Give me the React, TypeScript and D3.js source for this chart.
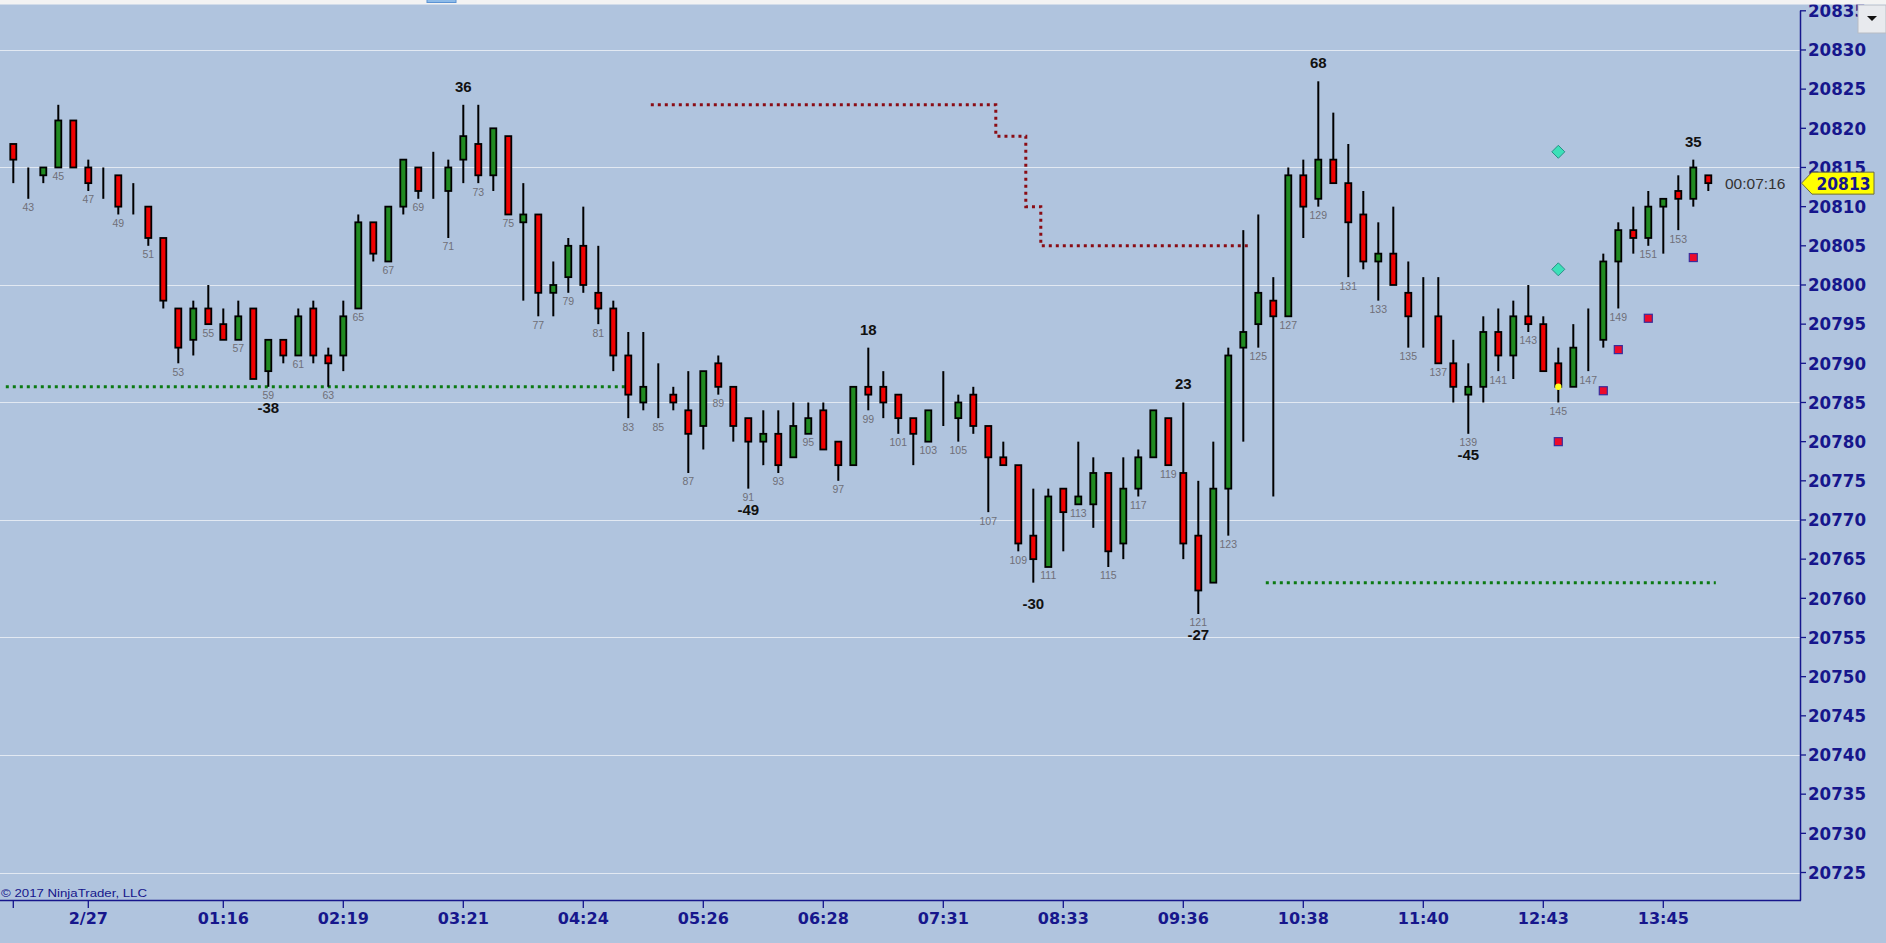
import { useEffect, useRef } from "react";
import * as d3 from "d3";

// bar numbers 42..155, OHLC
const FIRST_BAR = 42;
const LAST_LABELLED_BAR = 153;

const opens = [
  20818, 20815, 20814, 20815, 20821, 20815, 20813, 20814, 20810, 20810,
  20806, 20797, 20793, 20797, 20795, 20793, 20797, 20789, 20793, 20791,
  20797, 20791, 20791, 20797, 20808, 20803, 20810, 20815, 20811, 20812,
  20816, 20818, 20814, 20819, 20808, 20809, 20799, 20801, 20805, 20799,
  20797, 20791, 20785, 20786, 20786, 20784, 20782, 20790, 20787, 20783,
  20780, 20781, 20778, 20781, 20784, 20780, 20777, 20787, 20787, 20786,
  20783, 20780, 20783, 20783, 20786, 20782, 20778, 20777, 20768, 20764,
  20774, 20772, 20772, 20776, 20767, 20774, 20778, 20783, 20776, 20768,
  20762, 20774, 20792, 20795, 20798, 20796, 20814, 20811, 20816, 20813,
  20809, 20803, 20804, 20799, 20795, 20796, 20790, 20786, 20787, 20794,
  20791, 20796, 20795, 20790, 20787, 20792, 20793, 20803, 20807, 20806,
  20810, 20812, 20811, 20814,
];
const highs = [
  20818, 20815, 20815, 20823, 20821, 20816, 20815, 20814, 20813, 20810,
  20806, 20797, 20798, 20800, 20797, 20798, 20797, 20793, 20793, 20797,
  20798, 20792, 20798, 20809, 20808, 20810, 20816, 20815, 20817, 20816,
  20823, 20823, 20820, 20819, 20813, 20809, 20803, 20806, 20810, 20805,
  20798, 20794, 20794, 20790, 20787, 20789, 20789, 20791, 20787, 20783,
  20784, 20784, 20785, 20785, 20785, 20780, 20787, 20792, 20789, 20786,
  20783, 20784, 20789, 20786, 20787, 20782, 20780, 20777, 20774, 20774,
  20774, 20780, 20778, 20776, 20778, 20779, 20784, 20783, 20785, 20775,
  20780, 20792, 20807, 20809, 20801, 20815, 20816, 20826, 20822, 20818,
  20812, 20808, 20810, 20803, 20801, 20801, 20793, 20790, 20796, 20797,
  20798, 20800, 20796, 20792, 20795, 20797, 20804, 20808, 20810, 20812,
  20811, 20814, 20816, 20814,
];
const lows = [
  20813, 20811, 20813, 20815, 20815, 20812, 20811, 20809, 20809, 20805,
  20797, 20790, 20791, 20795, 20793, 20793, 20788, 20787, 20790, 20791,
  20790, 20787, 20789, 20797, 20803, 20803, 20809, 20811, 20811, 20806,
  20813, 20813, 20812, 20809, 20798, 20796, 20796, 20799, 20799, 20795,
  20789, 20783, 20784, 20783, 20784, 20776, 20779, 20786, 20780, 20774,
  20777, 20776, 20778, 20781, 20779, 20775, 20777, 20784, 20783, 20781,
  20777, 20780, 20782, 20780, 20781, 20771, 20777, 20766, 20762, 20764,
  20766, 20772, 20769, 20764, 20765, 20773, 20778, 20777, 20765, 20758,
  20762, 20768, 20780, 20792, 20773, 20796, 20806, 20810, 20813, 20801,
  20802, 20798, 20800, 20792, 20792, 20790, 20785, 20781, 20785, 20789,
  20788, 20794, 20789, 20785, 20787, 20789, 20792, 20797, 20804, 20805,
  20804, 20807, 20810, 20812,
];
const closes = [
  20816, 20815, 20815, 20821, 20815, 20813, 20813, 20810, 20810, 20806,
  20798, 20792, 20797, 20795, 20793, 20796, 20788, 20793, 20791, 20796,
  20791, 20790, 20796, 20808, 20804, 20810, 20816, 20812, 20811, 20815,
  20819, 20814, 20820, 20809, 20809, 20799, 20800, 20805, 20800, 20797,
  20791, 20786, 20787, 20786, 20785, 20781, 20789, 20787, 20782, 20780,
  20781, 20777, 20782, 20783, 20779, 20777, 20787, 20786, 20785, 20783,
  20781, 20784, 20783, 20785, 20782, 20778, 20777, 20767, 20765, 20773,
  20771, 20773, 20776, 20766, 20774, 20778, 20784, 20777, 20767, 20761,
  20774, 20791, 20794, 20799, 20796, 20814, 20810, 20816, 20813, 20808,
  20803, 20804, 20800, 20796, 20795, 20790, 20787, 20787, 20794, 20791,
  20796, 20795, 20789, 20787, 20792, 20792, 20803, 20807, 20806, 20810,
  20811, 20811, 20815, 20813,
];

// swing counters
const swingBars = [59, 72, 91, 99, 110, 120, 121, 129, 139, 154];
const swingTexts = ["-38", "36", "-49", "18", "-30", "23", "-27", "68", "-45", "35"];
const swingAbove = [false, true, false, true, false, true, false, true, false, true];

// time axis
const timeTickBars = [42, 47, 56, 64, 72, 80, 88, 96, 104, 112, 120, 128, 136, 144, 152];
const timeTickLabels = ["", "2/27", "01:16", "02:19", "03:21", "04:24", "05:26", "06:28",
  "07:31", "08:33", "09:36", "10:38", "11:40", "12:43", "13:45"];

// dotted levels: [bar, price] step points
const redSteps: [number, number][] = [[84.5, 20823], [107.5, 20819], [109.5, 20810], [110.5, 20805], [124.5, 20805]];
const greenStepsA: [number, number][] = [[41.5, 20787], [83.5, 20787]];
const greenStepsB: [number, number][] = [[125.5, 20762], [155.5, 20762]];

// signal markers
const diamondBars = [145, 145];
const diamondPrices = [20817, 20802];
const squareBars = [145, 148, 149, 151, 154];
const squarePrices = [20780, 20786.5, 20791.75, 20795.75, 20803.5];
const dotBars = [145];
const dotPrices = [20787];

const LAST_PRICE = 20813;
const BAR_TIMER = "00:07:16";

const W = 1886;
const H = 943;
const AXIS_X = 1800;
const AXIS_Y = 900;
const NAVY = "#16168c";

export default function App() {
  const svgRef = useRef<SVGSVGElement>(null);

  useEffect(() => {
    if (!svgRef.current) return;
    const svg = d3.select(svgRef.current);
    svg.selectAll("*").remove();

    const x = d3.scaleLinear().domain([FIRST_BAR, 155]).range([13.3, 1708.3]);
    const y = d3.scaleLinear().domain([20725, 20835]).range([872.5, 10.8]);

    svg.append("rect").attr("width", W).attr("height", H).attr("fill", "#b0c4de");

    // grid
    svg.append("g")
      .selectAll("line")
      .data(d3.range(20725, 20831, 15))
      .join("line")
      .attr("x1", 0)
      .attr("x2", AXIS_X)
      .attr("y1", (d) => Math.round(y(d)) + 0.5)
      .attr("y2", (d) => Math.round(y(d)) + 0.5)
      .attr("stroke", "#e2e9f2")
      .attr("stroke-width", 1.2);

    // dotted level lines
    const stepLine = d3
      .line<[number, number]>()
      .x((d) => x(d[0]))
      .y((d) => y(d[1]))
      .curve(d3.curveStepAfter);
    const levels: [[number, number][], string][] = [
      [redSteps, "#8a0c14"],
      [greenStepsA, "#0b7a12"],
      [greenStepsB, "#0b7a12"],
    ];
    levels.forEach(([pts, color]) => {
      svg.append("path")
        .attr("d", stepLine(pts))
        .attr("fill", "none")
        .attr("stroke", color)
        .attr("stroke-width", 3)
        .attr("stroke-dasharray", "3,4");
    });

    const bars = opens.map((o, i) => ({
      n: FIRST_BAR + i,
      o,
      h: highs[i],
      l: lows[i],
      c: closes[i],
    }));

    const gBars = svg.append("g");
    // wicks
    gBars.selectAll("line.wick")
      .data(bars)
      .join("line")
      .attr("class", "wick")
      .attr("x1", (d) => x(d.n))
      .attr("x2", (d) => x(d.n))
      .attr("y1", (d) => y(d.h))
      .attr("y2", (d) => y(d.l))
      .attr("stroke", "#000")
      .attr("stroke-width", 2);
    // bodies
    gBars.selectAll("rect.body")
      .data(bars)
      .join("rect")
      .attr("class", "body")
      .attr("x", (d) => x(d.n) - 3)
      .attr("width", 6)
      .attr("y", (d) => y(Math.max(d.o, d.c)))
      .attr("height", (d) => Math.abs(y(d.o) - y(d.c)))
      .attr("fill", (d) => (d.c > d.o ? "#218a21" : d.c < d.o ? "#f00000" : "#000"))
      .attr("stroke", "#000")
      .attr("stroke-width", 1.8);

    // bar numbers under odd bars (the live bar has none)
    svg.append("g")
      .selectAll("text")
      .data(bars.filter((d) => d.n % 2 === 1 && d.n <= LAST_LABELLED_BAR))
      .join("text")
      .attr("x", (d) => x(d.n))
      .attr("y", (d) => y(d.l) + 12.5)
      .attr("text-anchor", "middle")
      .attr("font-family", "'Liberation Sans Narrow', 'Liberation Sans', Arial, sans-serif")
      .attr("font-size", 10.5)
      .attr("fill", "#6f6f78")
      .text((d) => String(d.n));

    // swing counters
    swingBars.forEach((b, i) => {
      const bar = bars[b - FIRST_BAR];
      svg.append("text")
        .attr("x", x(b))
        .attr("y", swingAbove[i] ? y(bar.h) - 13 : y(bar.l) + 26)
        .attr("text-anchor", "middle")
        .attr("font-family", "'Liberation Sans', Arial, sans-serif")
        .attr("font-weight", "bold")
        .attr("font-size", 15)
        .attr("fill", "#111")
        .text(swingTexts[i]);
    });

    // markers
    diamondBars.forEach((b, i) => {
      const cx = x(b);
      const cy = y(diamondPrices[i]);
      svg.append("path")
        .attr("d", `M${cx},${cy - 6.5}L${cx + 6.5},${cy}L${cx},${cy + 6.5}L${cx - 6.5},${cy}Z`)
        .attr("fill", "#3ce0b8")
        .attr("stroke", "#2a8f86")
        .attr("stroke-width", 1);
    });
    squareBars.forEach((b, i) => {
      svg.append("rect")
        .attr("x", x(b) - 4)
        .attr("y", y(squarePrices[i]) - 4)
        .attr("width", 8)
        .attr("height", 8)
        .attr("fill", "#ee0a2a")
        .attr("stroke", "#3a2c9c")
        .attr("stroke-width", 1.2);
    });
    dotBars.forEach((b, i) => {
      svg.append("circle")
        .attr("cx", x(b))
        .attr("cy", y(dotPrices[i]))
        .attr("r", 3.2)
        .attr("fill", "#ffff20");
    });

    // bar timer
    svg.append("text")
      .attr("x", 1725)
      .attr("y", y(LAST_PRICE) + 5.5)
      .attr("font-family", "'Liberation Sans', Arial, sans-serif")
      .attr("font-size", 15.5)
      .attr("fill", "#333")
      .text(BAR_TIMER);

    // price axis
    svg.append("line")
      .attr("x1", AXIS_X + 0.5).attr("x2", AXIS_X + 0.5)
      .attr("y1", y(20835)).attr("y2", AXIS_Y + 0.5)
      .attr("stroke", NAVY).attr("stroke-width", 1.5);
    const yTicks = d3.range(20725, 20836, 5);
    const gy = svg.append("g");
    gy.selectAll("line")
      .data(yTicks)
      .join("line")
      .attr("x1", AXIS_X).attr("x2", AXIS_X + 6)
      .attr("y1", (d) => y(d)).attr("y2", (d) => y(d))
      .attr("stroke", NAVY).attr("stroke-width", 1.3);
    gy.selectAll("text")
      .data(yTicks)
      .join("text")
      .attr("x", AXIS_X + 8)
      .attr("y", (d) => y(d) + 6.2)
      .attr("font-family", "'DejaVu Sans', sans-serif")
      .attr("font-weight", "bold")
      .attr("font-size", 17)
      .attr("textLength", 58)
      .attr("lengthAdjust", "spacingAndGlyphs")
      .attr("fill", NAVY)
      .text((d) => String(d));

    // time axis
    svg.append("line")
      .attr("x1", 0).attr("x2", AXIS_X + 1)
      .attr("y1", AXIS_Y + 0.5).attr("y2", AXIS_Y + 0.5)
      .attr("stroke", NAVY).attr("stroke-width", 1.5);
    const gx = svg.append("g");
    gx.selectAll("line")
      .data(timeTickBars)
      .join("line")
      .attr("x1", (d) => x(d)).attr("x2", (d) => x(d))
      .attr("y1", AXIS_Y).attr("y2", AXIS_Y + 8)
      .attr("stroke", NAVY).attr("stroke-width", 1.3);
    gx.selectAll("text")
      .data(timeTickBars)
      .join("text")
      .attr("x", (d) => x(d))
      .attr("y", AXIS_Y + 24)
      .attr("text-anchor", "middle")
      .attr("font-family", "'DejaVu Sans', sans-serif")
      .attr("font-weight", "bold")
      .attr("font-size", 16)
      .attr("fill", NAVY)
      .text((_, i) => timeTickLabels[i]);

    svg.append("text")
      .attr("x", 1)
      .attr("y", 896.5)
      .attr("font-family", "'Liberation Sans', Arial, sans-serif")
      .attr("font-size", 11.5)
      .attr("textLength", 146)
      .attr("lengthAdjust", "spacingAndGlyphs")
      .attr("fill", NAVY)
      .text("© 2017 NinjaTrader, LLC");

    // last price flag
    const py = y(LAST_PRICE);
    svg.append("path")
      .attr("d", `M${AXIS_X + 1.5},${py}L${AXIS_X + 12},${py - 11}L${1874},${py - 11}L${1874},${py + 11}L${AXIS_X + 12},${py + 11}Z`)
      .attr("fill", "#ffff00")
      .attr("stroke", "#6a6a40")
      .attr("stroke-width", 1);
    svg.append("text")
      .attr("x", 1816.5)
      .attr("y", py + 7)
      .attr("font-family", "'DejaVu Sans', sans-serif")
      .attr("font-weight", "bold")
      .attr("font-size", 18)
      .attr("textLength", 54)
      .attr("lengthAdjust", "spacingAndGlyphs")
      .attr("fill", NAVY)
      .text(String(LAST_PRICE));

    // dropdown button top right
    svg.append("rect")
      .attr("x", 1858).attr("y", 5).attr("width", 28).attr("height", 28)
      .attr("fill", "#e8eaee").attr("stroke", "#b8bcc4");
    svg.append("path")
      .attr("d", "M1867,16L1877,16L1872,21Z")
      .attr("fill", "#111");

    // top strip
    svg.append("rect").attr("width", W).attr("height", 4.5).attr("fill", "#f3f3f3");
    svg.append("rect")
      .attr("x", 427).attr("y", -1).attr("width", 29).attr("height", 3.5)
      .attr("fill", "#8dbbe9").attr("stroke", "#5c93d3");
  }, []);

  return (
    <svg
      ref={svgRef}
      width={W}
      height={H}
      style={{ position: "absolute", left: 0, top: 0, display: "block" }}
    />
  );
}
